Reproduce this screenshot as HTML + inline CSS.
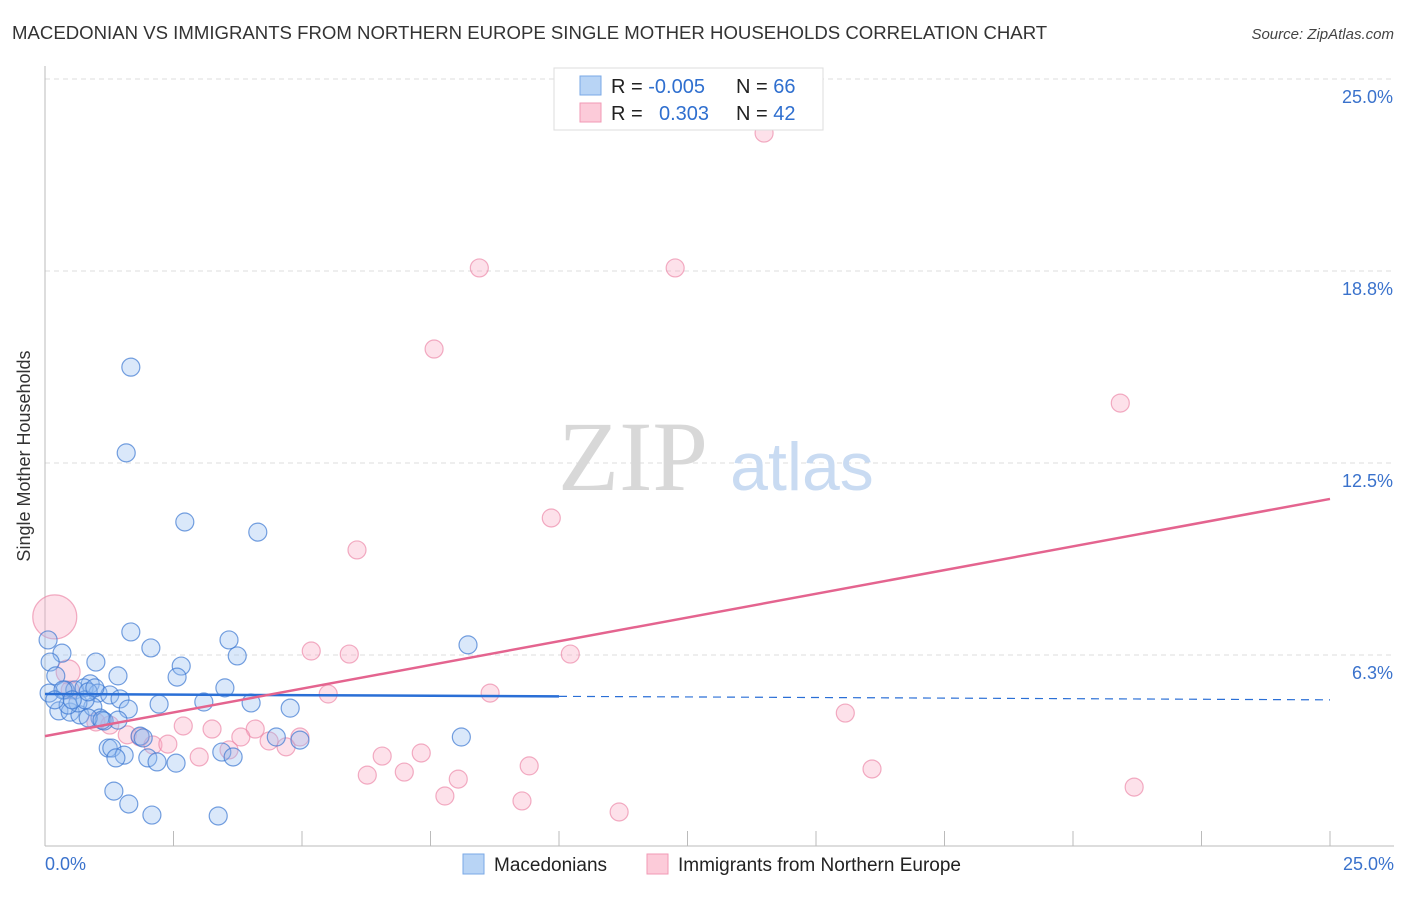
<!DOCTYPE html>
<html><head><meta charset="utf-8"><style>
body{margin:0;background:#fff;font-family:"Liberation Sans",sans-serif}
</style></head><body>
<svg id="c" width="1406" height="892" font-family="Liberation Sans, sans-serif" xmlns="http://www.w3.org/2000/svg">
<text x="12" y="39" font-size="18.6" fill="#333">MACEDONIAN VS IMMIGRANTS FROM NORTHERN EUROPE SINGLE MOTHER HOUSEHOLDS CORRELATION CHART</text>
<text x="1394" y="39" font-size="15" fill="#444" font-style="italic" text-anchor="end">Source: ZipAtlas.com</text>
<g id="grid"></g>
<text x="633" y="490" font-size="100" fill="#d8d8d8" style="font-family:'Liberation Serif',serif" text-anchor="middle">ZIP</text>
<text x="802" y="490" font-size="68" fill="#c9dbf2" text-anchor="middle">atlas</text>
<g id="pts"></g>
<g id="lines"></g>
<text x="30" y="456" font-size="18" fill="#333" text-anchor="middle" transform="rotate(-90 30 456)">Single Mother Households</text>
<g>
<rect x="554" y="68" width="269" height="62" fill="#fff" stroke="#ddd"/>
<rect x="580" y="76" width="21" height="19" fill="#b8d4f5" stroke="#7aa8e6"/>
<rect x="580" y="103" width="21" height="19" fill="#fccbd9" stroke="#f29ab5"/>
<text x="611" y="93" font-size="20" fill="#222">R = <tspan fill="#2f6fcf">-0.005</tspan></text>
<text x="736" y="93" font-size="20" fill="#222">N = <tspan fill="#2f6fcf">66</tspan></text>
<text x="611" y="120" font-size="20" fill="#222">R = <tspan fill="#2f6fcf" x="659">0.303</tspan></text>
<text x="736" y="120" font-size="20" fill="#222">N = <tspan fill="#2f6fcf">42</tspan></text>
</g>
<g>
<rect x="463" y="854" width="21" height="20" fill="#b8d4f5" stroke="#7aa8e6"/>
<text x="494" y="871" font-size="19" fill="#222">Macedonians</text></g>
<g>
<rect x="647" y="854" width="21" height="20" fill="#fccbd9" stroke="#f29ab5"/>
<text x="678" y="871" font-size="19" fill="#222">Immigrants from Northern Europe</text></g>
</svg>
<script>
const yTicks=[25,18.75,12.5,6.25];
const yTickLabels=["25.0%","18.8%","12.5%","6.3%"];
const xTickLabels=["0.0%","25.0%"];
const blueX=[1.67,1.58,2.72,4.14,1.67,3.58,2.06,3.74,8.23,0.06,0.33,0.99,2.65,1.42,2.57,0.10,0.21,0.08,0.39,0.58,0.88,0.76,1.03,1.26,1.46,3.50,3.09,2.22,4.01,4.77,0.27,0.49,0.68,0.93,0.64,1.62,1.07,1.15,0.84,1.85,1.91,4.50,8.10,1.23,1.30,1.54,1.38,2.00,2.18,2.55,3.44,3.66,1.34,1.63,2.08,3.37,0.45,0.78,0.35,1.11,0.53,0.19,1.42,0.84,0.97,4.96];
const blueY=[15.62,12.83,10.58,10.25,7.00,6.74,6.48,6.22,6.58,6.74,6.31,6.02,5.89,5.57,5.53,6.02,5.57,5.01,5.11,5.11,5.31,5.18,5.01,4.95,4.82,5.18,4.72,4.65,4.69,4.52,4.43,4.39,4.30,4.56,4.69,4.49,4.20,4.10,4.20,3.61,3.55,3.58,3.58,3.22,3.22,2.99,2.90,2.90,2.77,2.73,3.09,2.93,1.82,1.40,1.04,1.01,4.62,4.79,5.11,4.13,4.79,4.79,4.13,5.05,5.18,3.48];
const pinkX=[13.99,8.45,12.26,7.57,20.92,9.85,6.07,5.18,5.92,10.22,5.51,8.66,0.19,0.45,0.49,15.57,2.69,3.25,4.09,0.99,1.26,1.60,1.85,2.10,2.39,3.81,3.58,3.00,4.36,4.69,4.96,6.56,7.32,6.27,6.99,8.04,7.78,9.42,9.28,11.17,16.09,21.19];
const pinkY=[23.24,18.85,18.85,16.21,14.45,10.71,9.67,6.38,6.28,6.28,4.98,5.01,7.49,5.70,5.11,4.36,3.94,3.84,3.84,4.07,3.97,3.65,3.58,3.32,3.35,3.58,3.16,2.93,3.45,3.26,3.58,2.96,3.06,2.34,2.44,2.21,1.66,2.64,1.50,1.14,2.54,1.95];
const pinkR=[9,9,9,9,9,9,9,9,9,9,9,9,22,12,9,9,9,9,9,9,9,9,9,9,9,9,9,9,9,9,9,9,9,9,9,9,9,9,9,9,9,9];
const blueTrend=[4.98,4.79];
const pinkTrend=[3.61,11.33];
const NS="http://www.w3.org/2000/svg";
const X=v=>45+v/25*1285, Y=v=>847-v/25*768;
function mk(t,a,p){const e=document.createElementNS(NS,t);for(const k in a)e.setAttribute(k,a[k]);p.appendChild(e);return e;}
const g=document.getElementById('grid');
yTicks.forEach((t,i)=>{const l=mk('line',{x1:45,x2:1394,y1:Y(t),y2:Y(t),stroke:'#ddd','stroke-dasharray':'5,4'},g);


const tx=mk('text',{x:1393,y:Y(t)+24,'font-size':18,fill:'#3a72cc','text-anchor':'end'},g);tx.textContent=yTickLabels[i];

});
const ax=mk('line',{x1:45,x2:45,y1:66,y2:846,stroke:'#bbb'},g);


const bx=mk('line',{x1:45,x2:1394,y1:846,y2:846,stroke:'#bbb'},g);


for(let i=1;i<=10;i++){const t=mk('line',{x1:X(i*2.5),x2:X(i*2.5),y1:831,y2:846,stroke:'#bbb'},g);

}
[[0,'start',45],[25,'end',1394]].forEach((d,i)=>{const t=mk('text',{x:d[2],y:870,'font-size':18,fill:'#3a72cc','text-anchor':d[1]},g);t.textContent=xTickLabels[i];

});
const p=document.getElementById('pts');
pinkX.forEach((v,i)=>{const c=mk('circle',{cx:X(v),cy:Y(pinkY[i]),r:pinkR[i],fill:'rgba(248,170,195,0.35)',stroke:'rgba(235,130,165,0.65)','stroke-width':1.2},p);

});
blueX.forEach((v,i)=>{const c=mk('circle',{cx:X(v),cy:Y(blueY[i]),r:9,fill:'rgba(150,190,240,0.35)',stroke:'rgba(60,120,210,0.7)','stroke-width':1.2},p);

});
const L=document.getElementById('lines');
const bm=blueTrend[0]+(blueTrend[1]-blueTrend[0])*0.4;
const b1=mk('line',{x1:X(0),y1:Y(blueTrend[0]),x2:X(10),y2:Y(bm),stroke:'#2a6fd6','stroke-width':2.5},L);


const b2=mk('line',{x1:X(10),y1:Y(bm),x2:X(25),y2:Y(blueTrend[1]),stroke:'#2a6fd6','stroke-width':1.2,'stroke-dasharray':'8,6'},L);


const pl=mk('line',{x1:X(0),y1:Y(pinkTrend[0]),x2:X(25),y2:Y(pinkTrend[1]),stroke:'#e4648f','stroke-width':2.5},L);


</script>
</body></html>
